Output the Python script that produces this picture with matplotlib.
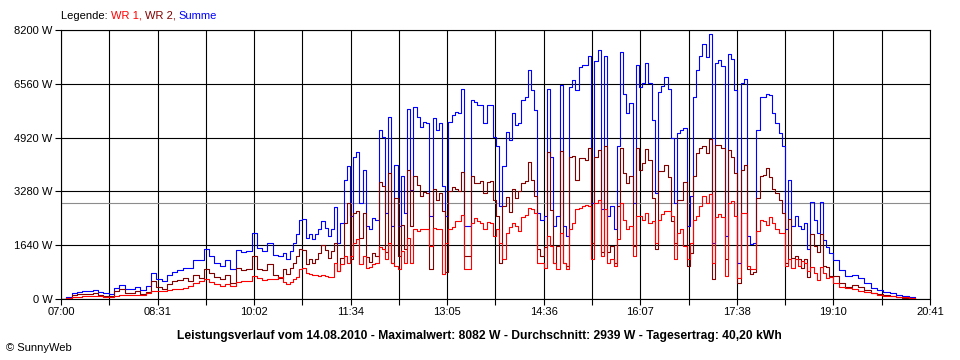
#!/usr/bin/env python
"""
Daily power curve of a small PV plant (SunnyWeb style), 14.08.2010.
Two inverters (WR 1, WR 2) and their sum, one value every few minutes.
"""

import matplotlib
matplotlib.use("Agg")
import matplotlib.pyplot as plt

FONT = "Liberation Sans"
DPI = 100
FIGSIZE = (9.6, 3.6)

C_WR1 = "#ff0000"
C_WR2 = "#800000"
C_SUM = "#0000ff"

# sampling times, minutes after 07:00
T_MORNING = list(range(0, 210, 5))
T_MIDDAY = list(range(210, 732, 3))
T_EVENING = list(range(735, 808, 6))

# WR 1 in W
WR1_MORNING = [0, 30, 60, 75, 90, 100, 95, 85, 70, 55,
               100, 130, 125, 120, 130, 130, 170, 250, 230, 230,
               260, 290, 310, 330, 400, 480, 540, 600, 510, 450,
               390, 470, 400, 520, 560, 540, 700, 640, 580, 620,
               620, 660]
WR1_MIDDAY = [510, 460, 510, 610, 660, 910, 960, 790, 760, 730,
              740, 710, 730, 690, 660, 660, 1110, 860, 1060, 1310,
              1110, 1310, 1720, 1820, 1060, 1310, 930, 990, 1060, 1110,
              1570, 1520, 1210, 1720, 1110, 1010, 910, 1470, 1110, 1870,
              1110, 2120, 2070, 2120, 2140, 2120, 1620, 2170, 2120, 2120,
              760, 1720, 2120, 2200, 2370, 2370, 2550, 910, 910, 2320,
              2470, 2370, 2320, 2120, 2340, 2320, 1920, 2120, 1720, 1210,
              2000, 2200, 2320, 2220, 2070, 2510, 2550, 2780, 2730, 2630,
              1110, 1110, 960, 1920, 1620, 1110, 910, 2020, 1110, 910,
              2120, 2320, 2730, 2780, 2830, 2880, 2830, 1210, 2930, 3030,
              1310, 2730, 1110, 1210, 1010, 1820, 2930, 2420, 2120, 2220,
              1310, 2530, 2530, 2420, 2630, 2320, 2370, 1720, 2400, 2600,
              2680, 2680, 2530, 1210, 2020, 2120, 1620, 1210, 1720, 2420,
              2530, 2830, 3130, 2930, 3200, 1110, 2500, 2600, 2500, 710,
              2930, 2980, 2530, 630, 2630, 2630, 1010, 910, 910, 2070,
              2420, 2370, 2270, 2500, 2320, 2120, 2020, 2020, 1010, 1210,
              960, 1210, 1010, 1160, 1110, 860, 990, 780, 580, 990,
              780, 630, 680, 480]
WR1_EVENING = [380, 330, 300, 250, 220, 170, 120, 100, 80, 60, 50, 30, 0]

# WR 2 in W
WR2_MORNING = [0, 40, 120, 140, 140, 150, 190, 135, 105, 95,
               230, 310, 185, 185, 240, 150, 220, 540, 380, 310,
               460, 540, 580, 630, 550, 720, 640, 910, 790, 660,
               610, 720, 500, 960, 880, 920, 1300, 910, 890, 1080,
               720, 640]
WR2_MIDDAY = [900, 750, 960, 1110, 1310, 1510, 1480, 1080, 1210, 1090,
              1230, 1410, 1640, 1480, 1260, 1460, 1700, 860, 1260, 2330,
              2930, 1220, 2620, 2670, 1870, 2630, 1290, 1130, 1410, 1310,
              3580, 3430, 1420, 3840, 1110, 3080, 1310, 2270, 1520, 3930,
              2220, 3740, 3490, 3130, 3260, 3230, 910, 3340, 3030, 3230,
              2670, 810, 3280, 3410, 3340, 3290, 3860, 1310, 1310, 3740,
              3540, 3540, 3590, 3230, 3570, 3590, 3030, 2530, 1110, 2830,
              3100, 2650, 3340, 3080, 3280, 3550, 3610, 4190, 3630, 3130,
              1520, 1310, 1570, 4480, 2720, 1110, 1620, 4500, 1110, 1010,
              4340, 4350, 3630, 4290, 4290, 4240, 4590, 1720, 4340, 4550,
              1420, 4670, 1420, 1620, 1110, 2830, 4600, 3840, 3540, 3740,
              1620, 4590, 3930, 4150, 4570, 4250, 3080, 1510, 3900, 3900,
              4090, 3730, 2370, 1720, 3030, 3030, 3580, 1010, 1410, 3740,
              4440, 4590, 4650, 4440, 4882, 610, 4700, 4700, 4600, 1210,
              4540, 4340, 3830, 480, 3940, 4090, 910, 760, 810, 3080,
              3740, 3790, 3990, 3710, 3340, 3230, 3030, 2630, 1110, 2430,
              1260, 1320, 1210, 960, 1210, 660, 1980, 1630, 1420, 1980,
              1020, 970, 710, 710]
WR2_EVENING = [500, 370, 430, 380, 260, 180, 150, 120, 90, 60, 40, 20, 0]

# Summe in W
SUM_MORNING = [0, 70, 180, 215, 230, 250, 285, 220, 175, 150,
               330, 440, 310, 305, 370, 280, 390, 790, 610, 540,
               720, 830, 890, 960, 950, 1200, 1180, 1510, 1300, 1110,
               1000, 1190, 900, 1480, 1440, 1460, 2000, 1550, 1470, 1700,
               1340, 1300]
SUM_MIDDAY = [1410, 1210, 1470, 1720, 1970, 2420, 2440, 1870, 1970, 1820,
              1970, 2120, 2370, 2170, 1920, 2120, 2810, 1720, 2320, 3640,
              4040, 2530, 4340, 4490, 2930, 3940, 2220, 2120, 2470, 2420,
              5150, 4950, 2630, 5560, 2220, 4090, 2220, 3740, 2630, 5800,
              3330, 5860, 5560, 5250, 5400, 5350, 2530, 5510, 5150, 5350,
              3430, 2530, 5400, 5610, 5710, 5660, 6410, 2220, 2220, 6060,
              6010, 5910, 5910, 5350, 5910, 5910, 4950, 4650, 2830, 4040,
              5100, 4850, 5660, 5300, 5350, 6060, 6160, 6970, 6360, 5760,
              2630, 2420, 2530, 6400, 4340, 2220, 2530, 6520, 2220, 1920,
              6460, 6670, 6360, 7070, 7120, 7120, 7420, 2930, 7270, 7580,
              2730, 7400, 2530, 2830, 2120, 4650, 7530, 6260, 5660, 5960,
              2930, 7120, 6460, 6570, 7200, 6570, 5450, 3230, 6300, 6500,
              6770, 6410, 4900, 2930, 5050, 5150, 5200, 2220, 3130, 6160,
              6970, 7420, 7780, 7370, 8082, 1720, 7200, 7300, 7100, 1920,
              7470, 7320, 6360, 1110, 6570, 6720, 1920, 1670, 1720, 5150,
              6160, 6160, 6260, 6210, 5660, 5350, 5050, 4650, 2120, 3640,
              2220, 2530, 2220, 2120, 2320, 1520, 2970, 2410, 2000, 2970,
              1800, 1600, 1390, 1190]
SUM_EVENING = [880, 700, 730, 630, 480, 350, 270, 220, 170, 120, 90, 50, 0]

AVERAGE_W = 2939
Y_TICKS = [0, 1640, 3280, 4920, 6560, 8200]
X_END = 821  # 20:41
X_LABELS = ["07:00", "", "08:31", "", "10:02", "", "11:34", "", "13:05", "",
            "14:36", "", "16:07", "", "17:38", "", "19:10", "", "20:41"]
TITLE = ("Leistungsverlauf vom 14.08.2010 - Maximalwert: 8082 W - "
         "Durchschnitt: 2939 W - Tagesertrag: 40,20 kWh")


def draw_legend(fig, x, y):
    parts = [("Legende: ", "black"), ("WR 1, ", C_WR1), ("WR 2, ", C_WR2), ("Summe", C_SUM)]
    renderer = fig.canvas.get_renderer()
    for text, color in parts:
        t = fig.text(x, y, text, color=color, fontsize=8, family=FONT, va="center", ha="left")
        bb = t.get_window_extent(renderer=renderer)
        x += bb.width / fig.bbox.width


def main():
    plt.rcParams["font.family"] = FONT

    t = T_MORNING + T_MIDDAY + T_EVENING
    wr1 = WR1_MORNING + WR1_MIDDAY + WR1_EVENING
    wr2 = WR2_MORNING + WR2_MIDDAY + WR2_EVENING
    total = SUM_MORNING + SUM_MIDDAY + SUM_EVENING

    fig = plt.figure(figsize=FIGSIZE, dpi=DPI, facecolor="white")
    ax = fig.add_axes([61 / 960, 61 / 360, 869 / 960, 269 / 360])

    ax.step(t, total, where="post", color=C_SUM, lw=0.8, zorder=3)
    ax.step(t, wr2, where="post", color=C_WR2, lw=0.8, zorder=4)
    ax.step(t, wr1, where="post", color=C_WR1, lw=0.8, zorder=5)
    ax.axhline(AVERAGE_W, color="#8c8c8c", lw=0.8, zorder=2)

    ax.set_xlim(0, X_END)
    ax.set_ylim(0, Y_TICKS[-1])
    step = X_END / (len(X_LABELS) - 1)
    ax.set_xticks([i * step for i in range(len(X_LABELS))])
    ax.set_xticklabels(X_LABELS)
    ax.set_yticks(Y_TICKS)
    ax.set_yticklabels([f"{v} W" for v in Y_TICKS])
    ax.tick_params(direction="out", length=4, width=0.8, colors="black",
                   labelsize=8, pad=2)
    ax.grid(True, color="black", lw=0.8, zorder=1)
    ax.set_axisbelow(True)
    for sp in ax.spines.values():
        sp.set_linewidth(0.8)
        sp.set_color("black")

    draw_legend(fig, 61 / 960, 1 - 16 / 360)
    fig.text(479 / 960, 24 / 360, TITLE, ha="center", va="center",
             fontsize=8.7, fontweight="bold")
    fig.text(6 / 960, 12 / 360, "\u00a9 SunnyWeb", ha="left", va="center", fontsize=8)

    fig.savefig("out.png", dpi=DPI, facecolor="white")
    plt.close(fig)


if __name__ == "__main__":
    main()
